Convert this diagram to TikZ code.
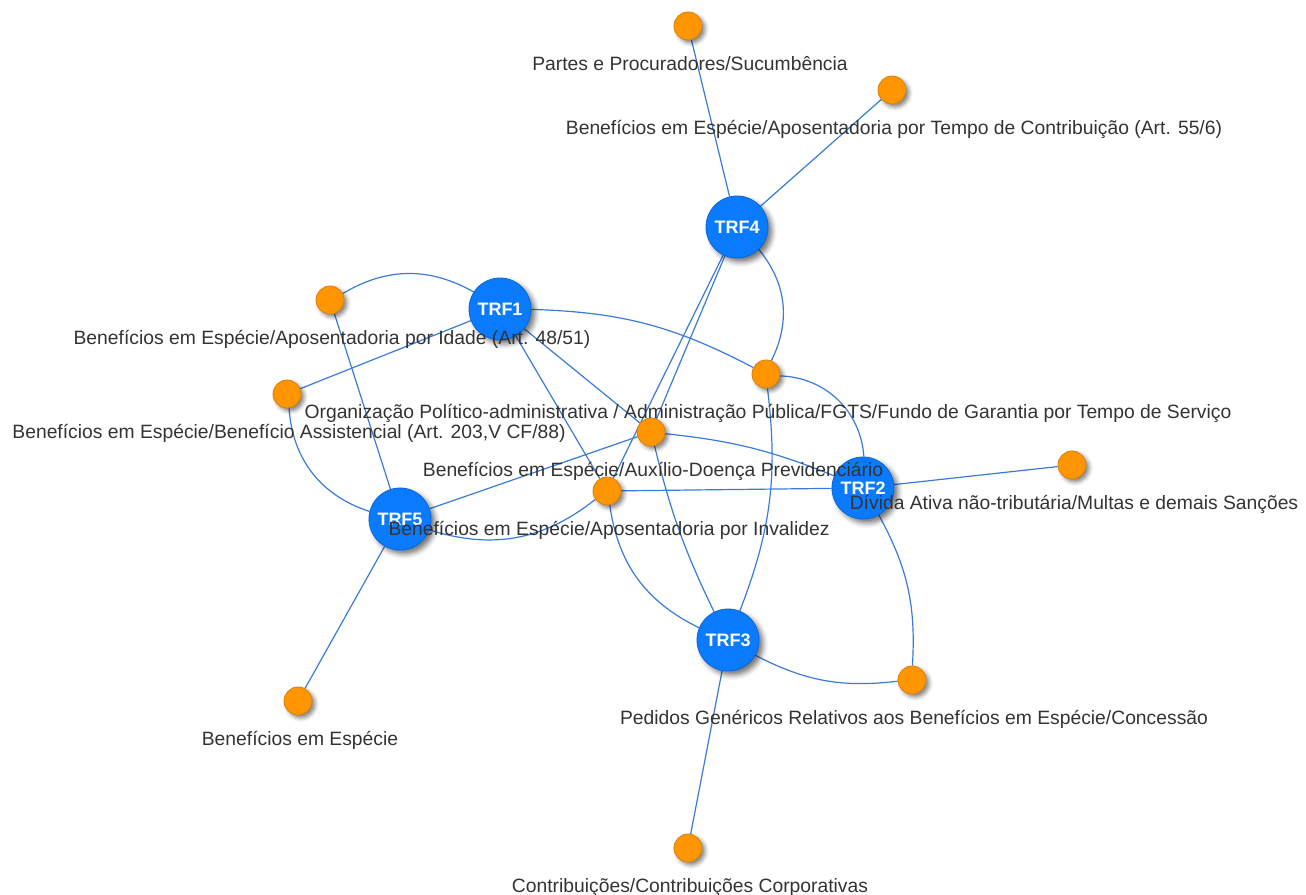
\documentclass[tikz,border=0pt]{standalone}
\usepackage{fontspec}
\setmainfont{Liberation Sans}
\usetikzlibrary{positioning, shadows.blur, backgrounds}

\definecolor{trfblue}{HTML}{0A7BFF}
\definecolor{trfborder}{HTML}{0866D6}
\definecolor{topicorange}{HTML}{FF9500}
\definecolor{topicborder}{HTML}{D9800A}
\definecolor{linkblue}{HTML}{3A7BD5}
\definecolor{labelgray}{HTML}{333333}

\begin{document}
\begin{tikzpicture}[
        x=1pt, y=1pt,
        court/.style={circle, draw=trfborder, fill=trfblue, line width=0.8pt, minimum size=62pt, inner sep=0pt,
            text=white, font=\fontsize{18}{20}\selectfont\bfseries,
            blur shadow={shadow xshift=4pt, shadow yshift=-4pt, shadow blur radius=5pt, shadow opacity=55}},
        subject/.style={circle, draw=topicborder, fill=topicorange, line width=0.8pt, minimum size=28pt, inner sep=0pt,
            blur shadow={shadow xshift=3pt, shadow yshift=-3pt, shadow blur radius=4pt, shadow opacity=50}},
        subject_lbl/.style={anchor=base, text=labelgray, inner sep=0pt, font=\fontsize{19.3}{22}\selectfont},
        link/.style={draw=linkblue, line width=1.2pt}
    ]
    \useasboundingbox (0,0) rectangle (1306,-894);

    % tribunais
    \node[court] (trf4) at (737,-227) {TRF4};
    \node[court] (trf1) at (500,-309) {TRF1};
    \node[court] (trf2) at (863,-488) {TRF2};
    \node[court] (trf5) at (400,-519) {TRF5};
    \node[court] (trf3) at (728,-640) {TRF3};

    % assuntos
    \node[subject] (partes) at (688,-26) {};
    \node[subject] (tempo) at (892,-90) {};
    \node[subject] (idade) at (330,-300) {};
    \node[subject] (assist) at (287,-394) {};
    \node[subject] (fgts) at (766,-374) {};
    \node[subject] (auxilio) at (651,-432) {};
    \node[subject] (invalidez) at (607,-491) {};
    \node[subject] (divida) at (1072,-465) {};
    \node[subject] (pedidos) at (912,-680) {};
    \node[subject] (especie) at (298,-701) {};
    \node[subject] (contrib) at (688,-848) {};

    \begin{scope}[on background layer]
        \draw[link] (partes) -- (trf4);
        \draw[link] (tempo) -- (trf4);
        \draw[link] (trf4) -- (auxilio);
        \draw[link] (trf4) -- (invalidez);
        \draw[link] (trf4) to[bend left=33] (fgts);

        \draw[link] (idade) to[bend left=30] (trf1);
        \draw[link] (assist) -- (trf1);
        \draw[link] (trf1) to[bend left=13] (fgts);
        \draw[link] (trf1) -- (auxilio);
        \draw[link] (trf1) -- (invalidez);

        \draw[link] (idade) -- (trf5);
        \draw[link] (assist) to[bend right=34] (trf5);
        \draw[link] (trf5) -- (auxilio);
        \draw[link] (trf5) to[bend right=28] (invalidez);
        \draw[link] (trf5) -- (especie);

        \draw[link] (auxilio) to[bend left=8] (trf2);
        \draw[link] (invalidez) -- (trf2);
        \draw[link] (fgts) to[bend left=42] (trf2);
        \draw[link] (trf2) -- (divida);
        \draw[link] (trf2) to[bend left=16] (pedidos);

        \draw[link] (auxilio) to[bend right=6] (trf3);
        \draw[link] (invalidez) to[bend right=28] (trf3);
        \draw[link] (fgts) to[bend left=14] (trf3);
        \draw[link] (trf3) to[bend right=17] (pedidos);
        \draw[link] (trf3) -- (contrib);
    \end{scope}

    % rotulos
    \node[subject_lbl] (partes_lbl) at ([xshift=2pt, yshift=-44pt]partes.center) {Partes e Procuradores/Sucumbência};
    \node[subject_lbl] (tempo_lbl) at ([xshift=2pt, yshift=-44pt]tempo.center) {Benefícios em Espécie/Aposentadoria por Tempo de Contribuição (Art. 55/6)};
    \node[subject_lbl] (idade_lbl) at ([xshift=2pt, yshift=-44pt]idade.center) {Benefícios em Espécie/Aposentadoria por Idade (Art. 48/51)};
    \node[subject_lbl] (assist_lbl) at ([xshift=2pt, yshift=-44pt]assist.center) {Benefícios em Espécie/Benefício Assistencial (Art. 203,V CF/88)};
    \node[subject_lbl] (fgts_lbl) at ([xshift=2pt, yshift=-44pt]fgts.center) {Organização Político-administrativa / Administração Pública/FGTS/Fundo de Garantia por Tempo de Serviço};
    \node[subject_lbl] (auxilio_lbl) at ([xshift=2pt, yshift=-44pt]auxilio.center) {Benefícios em Espécie/Auxílio-Doença Previdenciário};
    \node[subject_lbl] (invalidez_lbl) at ([xshift=2pt, yshift=-44pt]invalidez.center) {Benefícios em Espécie/Aposentadoria por Invalidez};
    \node[subject_lbl] (divida_lbl) at ([xshift=2pt, yshift=-44pt]divida.center) {Dívida Ativa não-tributária/Multas e demais Sanções};
    \node[subject_lbl] (pedidos_lbl) at ([xshift=2pt, yshift=-44pt]pedidos.center) {Pedidos Genéricos Relativos aos Benefícios em Espécie/Concessão};
    \node[subject_lbl] (especie_lbl) at ([xshift=2pt, yshift=-44pt]especie.center) {Benefícios em Espécie};
    \node[subject_lbl] (contrib_lbl) at ([xshift=2pt, yshift=-44pt]contrib.center) {Contribuições/Contribuições Corporativas};
\end{tikzpicture}
\end{document}
